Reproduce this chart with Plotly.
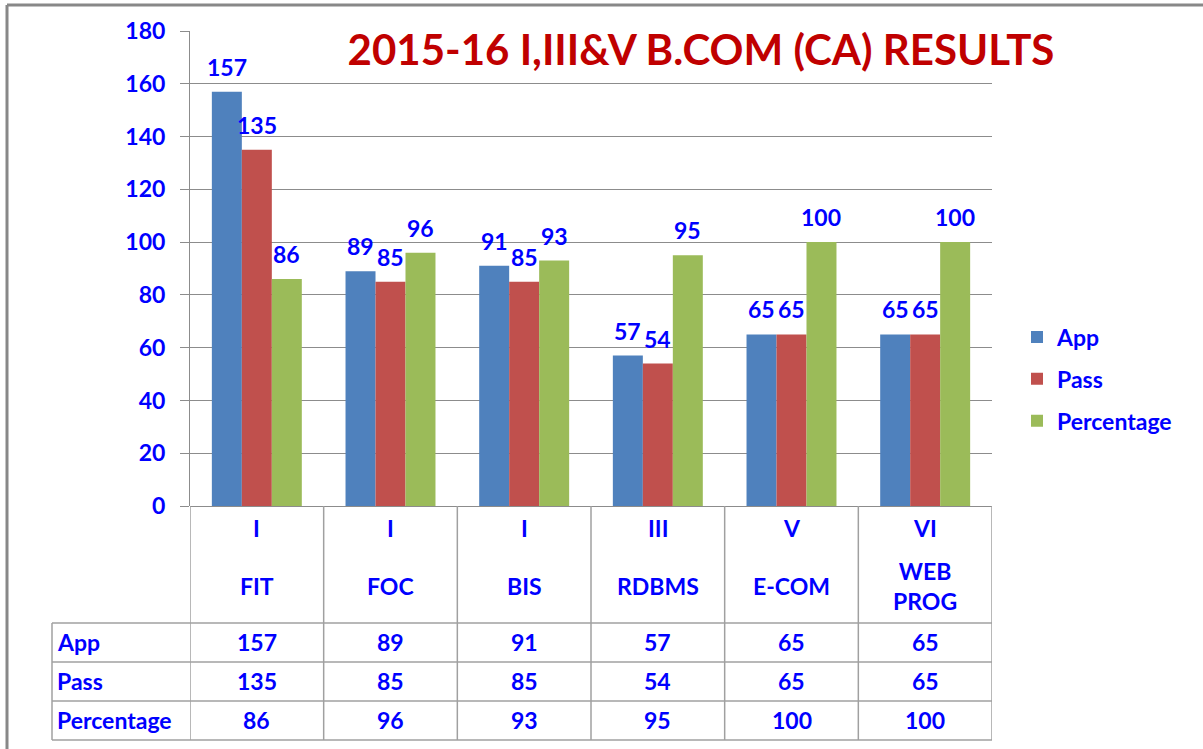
import plotly.graph_objects as go

# ---- data ----
semesters = ["I", "I", "I", "III", "V", "VI"]
subjects = ["FIT", "FOC", "BIS", "RDBMS", "E-COM", "WEB PROG"]
series_names = ["App", "Pass", "Percentage"]
app = [157, 89, 91, 57, 65, 65]
passed = [135, 85, 85, 54, 65, 65]
percentage = [86, 96, 93, 95, 100, 100]
y_ticks = [0, 20, 40, 60, 80, 100, 120, 140, 160, 180]
title_text = "2015-16 I,III&V B.COM (CA) RESULTS"

# ---- style ----
W, H = 1203, 749
L, R, T, B = 190, 992, 31, 506  # plot area in px
colors = ["#4F81BD", "#C0504D", "#9BBB59"]
TXT = "#0000FF"
FONT = "Lato"
FS = 23
GRID = "#8C8C8C"
BARGAP = 0.327

series = [app, passed, percentage]
n = len(subjects)
xs = list(range(n))


def px_x(p):
    return (p - L) / (R - L)


def px_y(p):
    return (B - p) / (B - T)


def tfont(size=FS):
    return dict(family=FONT, size=size, color=TXT, weight="bold")


fig = go.Figure()
for name, vals, col in zip(series_names, series, colors):
    fig.add_trace(go.Bar(
        x=xs, y=vals, name=name, marker=dict(color=col, line=dict(width=0)),
        legendgroup=name, hoverinfo="name+y",
    ))

bw = (1 - BARGAP) / 3
annotations = []
# data labels
for j, vals in enumerate(series):
    for i, v in enumerate(vals):
        annotations.append(dict(
            x=i + (j - 1) * bw, y=v, xref="x", yref="y", text=str(v),
            showarrow=False, xanchor="center", yanchor="bottom", yshift=9,
            font=tfont(),
        ))

# table header (category labels)
for i in range(n):
    annotations.append(dict(
        x=i, y=px_y(528), xref="x", yref="paper", text=semesters[i],
        showarrow=False, xanchor="center", yanchor="middle", font=tfont(),
    ))
    annotations.append(dict(
        x=i, y=px_y(586), xref="x", yref="paper", text=subjects[i].replace(" ", "<br>"),
        showarrow=False, xanchor="center", yanchor="middle", font=tfont(),
    ))

# table rows
row_centers = [642, 681, 720]
for r, (name, vals) in enumerate(zip(series_names, series)):
    annotations.append(dict(
        x=px_x(55), y=px_y(row_centers[r]), xref="paper", yref="paper", text=name,
        xanchor="left", yanchor="middle", showarrow=False, font=tfont(),
    ))
    for i, v in enumerate(vals):
        annotations.append(dict(
            x=i, y=px_y(row_centers[r]), xref="x", yref="paper", text=str(v),
            showarrow=False, xanchor="center", yanchor="middle", font=tfont(),
        ))

shapes = []
line_style = dict(color="#A0A0A0", width=1.5)
# vertical lines of table
for k in range(n + 1):
    shapes.append(dict(type="line", xref="x", yref="paper", x0=k - 0.5, x1=k - 0.5,
                       y0=px_y(506), y1=px_y(740), line=line_style))
shapes.append(dict(type="line", xref="paper", yref="paper", x0=px_x(52), x1=px_x(52),
                   y0=px_y(623), y1=px_y(740), line=line_style))
# horizontal lines of table
for yy in [623, 662, 701, 740]:
    shapes.append(dict(type="line", xref="paper", yref="paper", x0=px_x(52), x1=1,
                       y0=px_y(yy), y1=px_y(yy), line=line_style))
# outer chart border (top and left)
border = dict(color="#888888", width=3)
shapes.append(dict(type="line", xref="paper", yref="paper", x0=px_x(7), x1=px_x(W + 5),
                   y0=px_y(5), y1=px_y(5), line=border))
shapes.append(dict(type="line", xref="paper", yref="paper", x0=px_x(7), x1=px_x(7),
                   y0=px_y(5), y1=px_y(H + 5), line=border))

fig.update_layout(
    width=W, height=H,
    margin=dict(l=L, r=W - R, t=T, b=H - B, pad=0),
    paper_bgcolor="white", plot_bgcolor="white",
    barmode="group", bargap=BARGAP, bargroupgap=0,
    title=dict(text=title_text, x=701 / W, xref="container", xanchor="center",
               y=1 - 50 / H, yref="container", yanchor="middle",
               font=dict(family=FONT, size=42, color="#C00000", weight="bold")),
    xaxis=dict(range=[-0.5, n - 0.5], showticklabels=False, showgrid=False,
               zeroline=False, showline=False, ticks="", fixedrange=True),
    yaxis=dict(range=[0, 180], tickvals=y_ticks, showgrid=True, gridcolor=GRID,
               gridwidth=1, zeroline=True, zerolinecolor=GRID, zerolinewidth=1,
               showline=True, linecolor=GRID, linewidth=1,
               ticks="outside", ticklen=9, tickcolor=GRID, ticklabelstandoff=10,
               tickfont=tfont()),
    legend=dict(x=px_x(1017), y=px_y(379), xanchor="left", yanchor="middle",
                traceorder="grouped", tracegroupgap=9,
                font=tfont(), bgcolor="rgba(0,0,0,0)"),
    annotations=annotations, shapes=shapes,
    showlegend=True,
)

fig.write_html("out.html", config={"displayModeBar": False},
               post_script="document.body.style.margin='0';")
